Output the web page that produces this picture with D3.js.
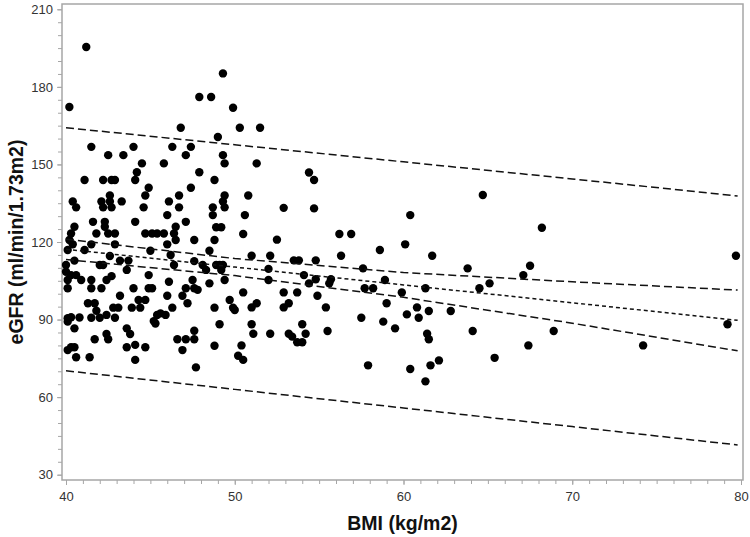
<!DOCTYPE html>
<html>
<head>
<meta charset="utf-8">
<script src="https://cdn.jsdelivr.net/npm/d3@7"></script>
<style>
  body { margin: 0; background: #fff; }
  svg { display: block; font-family: "Liberation Sans", Arial, sans-serif; }
</style>
</head>
<body>
<svg id="chart" width="750" height="537"></svg>
<script>
// BMI (kg/m2) and eGFR, point by point
const bmi = [
  41.2, 40.2, 49.3, 47.9, 48.6, 49.9, 46.8, 50.3, 51.5, 49.0,
  41.5, 44.0, 46.3, 47.4, 42.5, 43.4, 47.1, 49.3, 44.5, 45.8,
  49.4, 51.3, 44.2, 47.9, 54.4, 41.1, 42.2, 42.7, 42.9, 44.1,
  48.8, 54.7, 44.9, 47.4, 42.6, 44.7, 46.7, 49.4, 50.8, 64.7,
  40.4, 42.1, 42.6, 43.3, 46.1, 49.3, 40.6, 42.2, 42.7, 44.6,
  46.7, 48.7, 49.4, 52.9, 54.7, 46.0, 48.7, 50.6, 60.4, 41.6,
  42.3, 44.1, 47.1, 40.5, 42.3, 46.5, 48.9, 49.2, 68.2, 40.3,
  41.8, 42.5, 42.9, 44.7, 45.1, 45.4, 45.8, 46.4, 50.5, 56.2,
  56.9, 40.2, 46.5, 47.6, 48.8, 52.5, 40.4, 41.5, 42.9, 46.0,
  60.1, 40.1, 41.1, 45.0, 48.5, 58.6, 46.2, 42.6, 51.0, 52.1,
  56.3, 61.7, 79.7, 40.5, 43.2, 43.7, 47.6, 53.5, 53.8, 54.8,
  40.0, 42.0, 42.2, 46.4, 48.1, 48.9, 49.1, 49.3, 67.5, 52.0,
  57.6, 63.8, 43.6, 48.3, 49.2, 40.0, 40.3, 40.6, 44.9, 54.1,
  67.1, 42.7, 40.1, 40.9, 41.5, 42.4, 47.5, 49.4, 52.0, 58.9,
  54.8, 55.7, 46.1, 48.5, 54.4, 55.6, 65.1, 40.1, 41.5, 42.1,
  44.0, 44.9, 45.1, 47.1, 47.6, 47.8, 57.7, 58.2, 61.3, 64.5,
  50.5, 52.9, 53.7, 59.9, 43.2, 46.0, 46.9, 54.9, 44.3, 44.7,
  49.7, 41.3, 41.7, 47.2, 51.3, 53.2, 59.0, 42.8, 43.1, 43.9,
  44.4, 46.3, 48.8, 49.9, 51.0, 52.9, 55.4, 60.8, 50.0, 41.8,
  61.5, 62.8, 60.2, 45.4, 45.6, 45.9, 42.4, 40.3, 40.1, 40.8,
  41.5, 42.0, 42.9, 57.5, 60.9, 40.1, 45.2, 45.3, 58.8, 49.1,
  51.0, 54.0, 79.2, 40.5, 43.6, 59.5, 47.6, 55.5, 64.1, 68.9,
  43.8, 42.4, 51.1, 52.1, 53.2, 54.2, 61.4, 53.4, 41.7, 42.5,
  46.6, 47.1, 47.6, 61.5, 53.7, 54.0, 44.1, 48.8, 50.4, 67.4,
  74.2, 40.3, 40.5, 43.6, 44.7, 40.1, 46.9, 50.2, 40.6, 41.4,
  50.5, 44.1, 65.4, 62.1, 57.9, 61.6, 47.7, 60.4, 61.3
];
const egfr = [
  195.4, 172.2, 185.2, 176.1, 176.1, 171.9, 164.2, 164.2, 164.2, 160.6,
  156.8, 156.8, 156.8, 156.8, 153.6, 153.6, 153.6, 153.6, 150.4, 150.4,
  150.4, 150.4, 147.0, 147.0, 146.9, 144.0, 144.0, 144.0, 144.0, 144.0,
  144.0, 144.0, 141.0, 141.0, 138.0, 138.0, 138.0, 138.0, 138.0, 138.2,
  135.7, 135.7, 135.7, 135.7, 135.7, 135.7, 133.4, 133.4, 133.4, 133.4,
  133.4, 133.4, 133.4, 133.2, 133.0, 130.4, 130.4, 130.4, 130.4, 127.8,
  127.8, 127.8, 127.8, 125.9, 125.9, 125.9, 125.7, 125.7, 125.5, 123.3,
  123.3, 123.3, 123.3, 123.3, 123.3, 123.3, 123.3, 123.3, 123.1, 123.1,
  123.1, 120.8, 120.8, 120.8, 120.8, 120.9, 119.1, 119.1, 119.1, 119.1,
  119.1, 116.9, 116.9, 116.6, 116.6, 116.9, 115.0, 114.6, 114.7, 114.7,
  114.7, 114.7, 114.7, 112.8, 112.8, 112.8, 112.6, 112.9, 112.9, 112.9,
  111.1, 111.1, 111.1, 111.1, 111.1, 111.1, 111.1, 111.1, 110.8, 109.6,
  109.8, 109.8, 109.2, 109.2, 109.2, 108.5, 107.2, 107.2, 107.2, 107.2,
  107.2, 106.8, 105.3, 105.3, 105.3, 105.3, 105.3, 105.3, 105.3, 105.3,
  105.6, 105.6, 104.6, 104.0, 104.0, 104.0, 104.0, 102.1, 102.1, 102.1,
  102.1, 102.1, 102.1, 102.1, 102.1, 101.5, 102.1, 102.1, 102.1, 102.1,
  100.5, 100.5, 100.5, 100.5, 99.2, 99.2, 99.2, 99.2, 97.6, 97.6,
  97.6, 96.3, 96.3, 96.3, 96.3, 96.3, 96.3, 94.6, 94.6, 94.6,
  94.6, 94.6, 94.6, 94.6, 94.7, 94.7, 94.7, 94.7, 93.7, 93.4,
  93.3, 93.3, 92.0, 91.8, 92.4, 91.8, 91.8, 90.9, 90.5, 90.8,
  90.7, 90.7, 90.7, 90.7, 90.7, 89.2, 89.4, 88.5, 89.2, 88.2,
  88.2, 88.2, 88.2, 86.6, 86.6, 86.6, 85.7, 85.6, 85.6, 85.6,
  84.4, 84.4, 84.5, 84.5, 84.5, 84.5, 84.5, 83.4, 82.4, 82.4,
  82.4, 82.4, 82.4, 82.4, 81.2, 81.2, 80.2, 79.9, 80.0, 80.0,
  80.0, 79.3, 79.3, 79.3, 79.3, 78.2, 78.2, 76.0, 75.4, 75.4,
  74.4, 74.4, 75.2, 74.2, 72.3, 72.3, 71.5, 70.9, 66.1
];

// fitted line, confidence and prediction limits, read at these BMI values
const lineBmi = [40, 50, 60, 70, 79.8];
const fitLine = [117.2, 110.3, 103.4, 96.5, 89.7];
const confUpper = [121.1, 113.6, 108.2, 104.6, 101.4];
const confLower = [113.2, 107.0, 98.6, 88.6, 77.9];
const predUpper = [164.2, 157.6, 151.0, 144.4, 137.8];
const predLower = [70.2, 63.0, 55.8, 48.6, 41.5];

const xTicks = [40, 50, 60, 70, 80];
const yTicks = [30, 60, 90, 120, 150, 180, 210];

const xAxisLabel = 'BMI (kg/m2)';
const yAxisLabel = 'eGFR (ml/min/1.73m2)';

const svg = d3.select('#chart');

const frame = { left: 62, top: 4, right: 743, bottom: 480 };

const xScale = d3.scaleLinear()
    .domain([40, 80])
    .range([66, 741]);

const yScale = d3.scaleLinear()
    .domain([30, 210])
    .range([474.7, 9.3]);

const axisColor = '#a6a6a6';

// minor ticks first, majors on top
const xMinor = d3.axisBottom(xScale)
    .tickValues(d3.range(40, 81, 1))
    .tickSize(4)
    .tickFormat('');
const yMinor = d3.axisLeft(yScale)
    .tickValues(d3.range(30, 211, 5))
    .tickSize(4)
    .tickFormat('');

const xAxis = d3.axisBottom(xScale)
    .tickValues(xTicks)
    .tickSize(5)
    .tickPadding(7);
const yAxis = d3.axisLeft(yScale)
    .tickValues(yTicks)
    .tickSize(5)
    .tickPadding(4);

const xMinorG = svg.append('g')
    .attr('transform', `translate(0, ${frame.bottom})`)
    .call(xMinor);
const yMinorG = svg.append('g')
    .attr('transform', `translate(${frame.left}, 0)`)
    .call(yMinor);
const xAxisG = svg.append('g')
    .attr('transform', `translate(0, ${frame.bottom})`)
    .call(xAxis);
const yAxisG = svg.append('g')
    .attr('transform', `translate(${frame.left}, 0)`)
    .call(yAxis);

[xMinorG, yMinorG, xAxisG, yAxisG].forEach(g => {
    g.select('.domain').remove();
    g.selectAll('line').attr('stroke', axisColor);
    g.selectAll('text')
        .attr('fill', '#333')
        .style('font-size', '13px')
        .style('font-family', '"Liberation Sans", Arial, sans-serif');
});

// plot frame
svg.append('rect')
    .attr('x', frame.left)
    .attr('y', frame.top)
    .attr('width', frame.right - frame.left)
    .attr('height', frame.bottom - frame.top)
    .attr('fill', 'none')
    .attr('stroke', axisColor)
    .attr('stroke-width', 1.5);

// axis titles
svg.append('text')
    .attr('x', (frame.left + frame.right) / 2)
    .attr('y', 530)
    .attr('text-anchor', 'middle')
    .attr('font-weight', 'bold')
    .attr('font-size', 19.5)
    .attr('fill', '#111')
    .text(xAxisLabel);

svg.append('text')
    .attr('transform', `translate(23, ${(frame.top + frame.bottom) / 2}) rotate(-90)`)
    .attr('text-anchor', 'middle')
    .attr('font-weight', 'bold')
    .attr('font-size', 19.5)
    .attr('fill', '#111')
    .text(yAxisLabel);

// points
const points = bmi.map((b, i) => ({ bmi: b, egfr: egfr[i] }));

svg.append('g')
    .selectAll('circle')
    .data(points)
    .enter().append('circle')
        .attr('cx', d => xScale(d.bmi))
        .attr('cy', d => yScale(d.egfr))
        .attr('r', 4.2)
        .attr('fill', '#000');

// lines
const line = d3.line()
    .x(d => xScale(d[0]))
    .y(d => yScale(d[1]));

const bands = [
    { values: predUpper, dash: '8,4' },
    { values: predLower, dash: '8,4' },
    { values: confUpper, dash: '8,4' },
    { values: confLower, dash: '8,4' },
    { values: fitLine, dash: '4,3' }
];

svg.append('g')
    .selectAll('path')
    .data(bands)
    .enter().append('path')
        .attr('d', d => line(lineBmi.map((b, i) => [b, d.values[i]])))
        .attr('fill', 'none')
        .attr('stroke', '#111')
        .attr('stroke-width', 1.5)
        .attr('stroke-dasharray', d => d.dash);
</script>
</body>
</html>
